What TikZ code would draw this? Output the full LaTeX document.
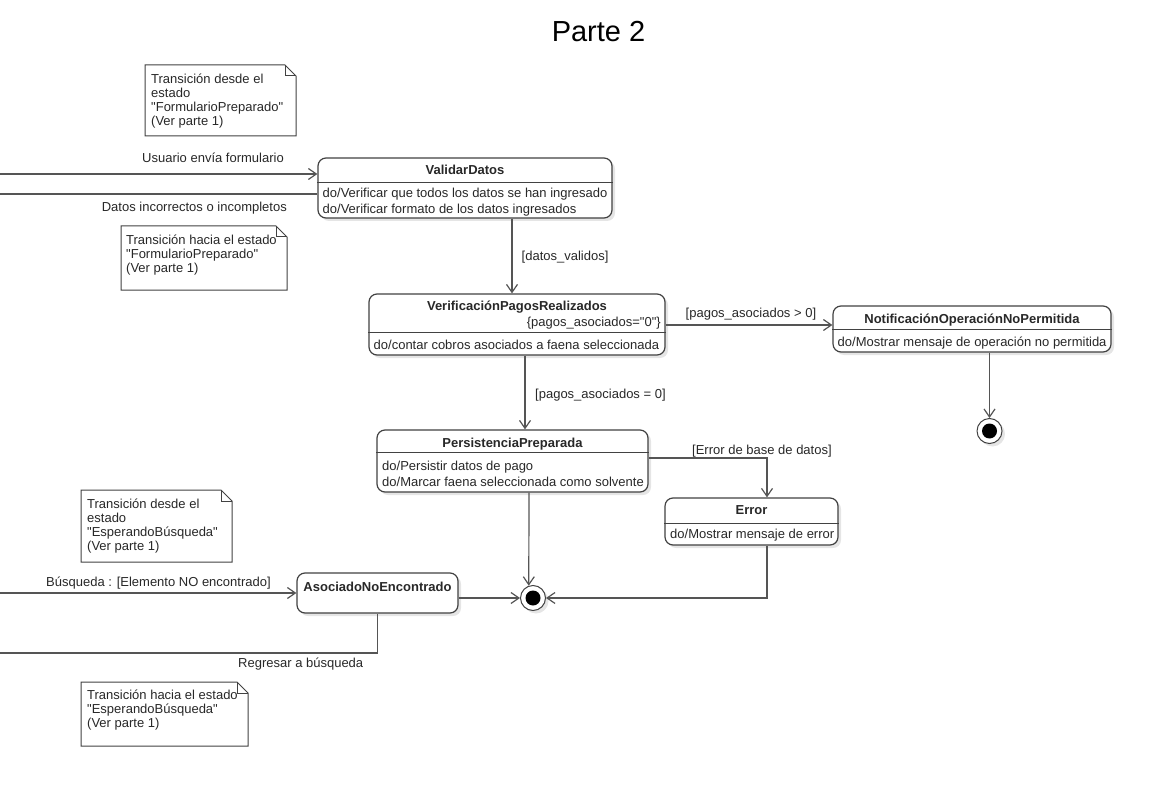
\documentclass[tikz,border=0pt]{standalone}
\usepackage{fontspec}
\setmainfont{Liberation Sans}[Ligatures=TeXOff]
\usetikzlibrary{arrows.meta,shadows}

\definecolor{edgecol}{RGB}{85,85,85}
\definecolor{boxcol}{RGB}{66,66,66}
\definecolor{txtcol}{RGB}{40,40,40}

\newcommand\dq{\symbol{34}}

\tikzset{
  softshadow/.style={drop shadow={shadow xshift=3pt,shadow yshift=-3pt,opacity=0.10,fill=black}},
  state/.style={draw=boxcol, line width=1.2pt, rounded corners=8pt, fill=white,
                inner sep=0pt, softshadow},
  sepline/.style={draw=boxcol, line width=1pt},
  txt/.style={font=\fontsize{13}{14}\selectfont, text=txtcol, inner sep=0pt},
  ttl/.style={font=\fontsize{13}{14}\selectfont\bfseries, text=txtcol, inner sep=0pt, anchor=base},
  lbl/.style={txt, anchor=base west},
  lblr/.style={txt, anchor=base east},
  trans/.style={draw=edgecol, line width=1.2pt, -{Straight Barb[length=8pt,width=11pt]}},
  flow/.style={draw=edgecol, line width=1.2pt},
  notebox/.style={draw=boxcol, line width=1pt, fill=white},
  notetxt/.style={txt, align=left, anchor=north west},
  finalring/.style={circle, draw=boxcol, fill=white, line width=1pt, minimum size=25pt,
                    inner sep=0pt, softshadow},
  finaldot/.style={circle, fill=black, minimum size=15pt, inner sep=0pt},
}

% UML comment box with a folded top-right corner: {x1}{y1}{x2}{y2}
\newcommand\umlnote[4]{%
  \draw[notebox] (#1,#2) -- ({#3-11},#2) -- (#3,{#2+11}) -- (#3,#4) -- (#1,#4) -- cycle;
  \draw[notebox, fill=none] ({#3-11},#2) -- ({#3-11},{#2+11}) -- (#3,{#2+11});
}

\begin{document}
\begin{tikzpicture}[x=1pt,y=-1pt]
\fill[white] (0,0) rectangle (1150,794);
\useasboundingbox (0,0) rectangle (1150,794);

\node[font=\fontsize{29}{32}\selectfont, text=black, inner sep=0pt, anchor=base]
  (title) at (598.5,42) {Parte 2};

% ---- comments ----
\umlnote{145}{65}{296}{136}
\node[notetxt] (n1) at (151,73.5) {Transición desde el\\estado\\\dq FormularioPreparado\dq\\(Ver parte 1)};
\umlnote{121}{226}{287}{290}
\node[notetxt] (n2) at (126,235) {Transición hacia el estado\\\dq FormularioPreparado\dq\\(Ver parte 1)};
\umlnote{81}{490}{232}{562}
\node[notetxt] (n3) at (87,498.5) {Transición desde el\\estado\\\dq EsperandoBúsqueda\dq\\(Ver parte 1)};
\umlnote{81}{682}{248}{746}
\node[notetxt] (n4) at (87,690) {Transición hacia el estado\\\dq EsperandoBúsqueda\dq\\(Ver parte 1)};

% ---- states ----
\node[state, minimum width=294pt, minimum height=60pt] (vd) at (465,188) {};
\draw[sepline] ([yshift=-25pt]vd.north west) -- ([yshift=-25pt]vd.north east);
\node[ttl] (vdT) at (465,175) {ValidarDatos};
\node[lbl] (vdB1) at (322.5,198) {do/Verificar que todos los datos se han ingresado};
\node[lbl] (vdB2) at (322.5,214) {do/Verificar formato de los datos ingresados};

\node[state, minimum width=296pt, minimum height=61pt] (vpr) at (517,324.5) {};
\draw[sepline] ([yshift=-39pt]vpr.north west) -- ([yshift=-39pt]vpr.north east);
\node[ttl] (vprT) at (517,310.5) {VerificaciónPagosRealizados};
\node[lblr] (vprC) at (661,326) {\{pagos\_asociados=\dq 0\dq\}};
\node[lbl] (vprB) at (373.5,349.5) {do/contar cobros asociados a faena seleccionada};

\node[state, minimum width=278pt, minimum height=46pt] (notif) at (972,329) {};
\draw[sepline] ([yshift=-24pt]notif.north west) -- ([yshift=-24pt]notif.north east);
\node[ttl] (notifT) at (972,323.5) {NotificaciónOperaciónNoPermitida};
\node[lbl] (notifB) at (837.5,346) {do/Mostrar mensaje de operación no permitida};

\node[state, minimum width=271pt, minimum height=62pt] (pp) at (512.5,461) {};
\draw[sepline] ([yshift=-23pt]pp.north west) -- ([yshift=-23pt]pp.north east);
\node[ttl] (ppT) at (512.5,447) {PersistenciaPreparada};
\node[lbl] (ppB1) at (382,470) {do/Persistir datos de pago};
\node[lbl] (ppB2) at (382,486) {do/Marcar faena seleccionada como solvente};

\node[state, minimum width=173pt, minimum height=47pt] (err) at (751.5,521.5) {};
\draw[sepline] ([yshift=-26pt]err.north west) -- ([yshift=-26pt]err.north east);
\node[ttl] (errT) at (751.5,514.5) {Error};
\node[lbl] (errB) at (670,538) {do/Mostrar mensaje de error};

\node[state, minimum width=161pt, minimum height=40pt] (ane) at (377.5,593) {};
\node[ttl] (aneT) at (377.5,591) {AsociadoNoEncontrado};

% ---- final states ----
\node[finalring] (f1) at (989.5,431) {};
\node[finaldot] (f1c) at (f1) {};
\node[finalring] (f2) at (533,598) {};
\node[finaldot] (f2c) at (f2) {};

% ---- helper coordinates for connector routes ----
\coordinate (in1) at (0,174);
\coordinate (out1) at (0,194);
\coordinate (in2) at (0,593);
\coordinate (out2) at (0,653);
\coordinate (cx512) at (512,0);
\coordinate (cx525) at (525,0);
\coordinate (cx529) at (529,0);
\coordinate (cx767) at (767,0);
\coordinate (cy325) at (0,325);
\coordinate (cy458) at (0,458);

% ---- transitions ----
\draw[trans] (in1) -- (in1 -| vd.west);
\node[lblr] (l1) at (284,163) {Usuario envía formulario};
\draw[flow] (out1 -| vd.west) -- (out1);
\node[lblr] (l2) at (287,211.5) {Datos incorrectos o incompletos};

\draw[trans] (cx512 |- vd.south) -- (cx512 |- vpr.north);
\node[lbl] (l3) at (521.5,260.5) {[datos\_validos]};

\draw[trans] (vpr.east |- cy325) -- (notif.west |- cy325);
\node[lbl] (l4) at (685.5,317) {[pagos\_asociados > 0]};

\draw[trans] (f1 |- notif.south) -- (f1.north);

\draw[trans] (cx525 |- vpr.south) -- (cx525 |- pp.north);
\node[lbl] (l5) at (535,398) {[pagos\_asociados = 0]};

\draw[trans] (pp.east |- cy458) -| (cx767 |- err.north);
\node[lbl] (l6) at (692,454) {[Error de base de datos]};

\draw[trans] (cx529 |- pp.south) -- (f2.109.5);
\draw[trans] (ane.east |- f2) -- (f2.west);
\draw[trans] (cx767 |- err.south) |- (f2.east);

\draw[trans] (in2) -- (in2 -| ane.west);
\node[lbl] (l7) at (46,586.5) {Búsqueda : [Elemento NO encontrado]};
\draw[flow] (ane.south) |- (out2);
\node[lbl] (l8) at (238,667) {Regresar a búsqueda};
\end{tikzpicture}
\end{document}
